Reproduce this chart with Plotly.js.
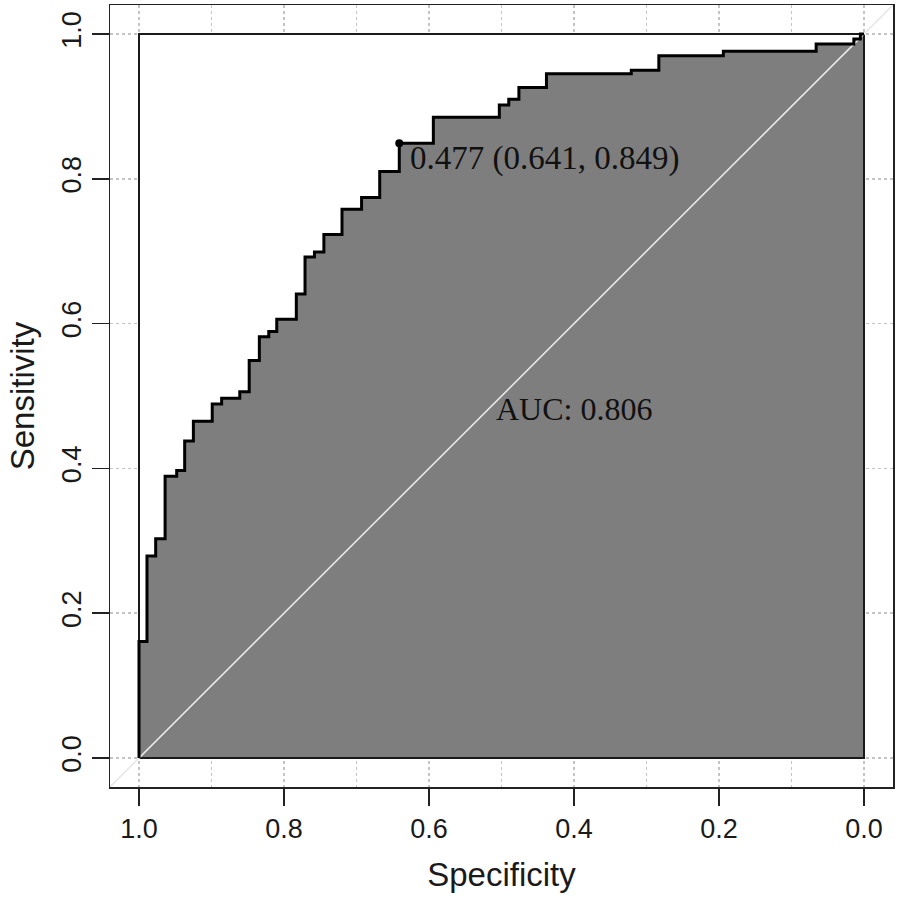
<!DOCTYPE html>
<html>
<head>
<meta charset="utf-8">
<script src="https://cdn.plot.ly/plotly-3.0.1.min.js"></script>
<style>html,body{margin:0;padding:0;background:#fff;}#chart{width:898px;height:901px;}</style>
</head>
<body>
<div id="chart"></div>
<script>
// ROC step vertices (specificity, sensitivity)
const specificity = [1, 0.989, 0.977, 0.964, 0.948, 0.937, 0.925, 0.899, 0.886, 0.861, 0.848,
  0.834, 0.821, 0.810, 0.783, 0.771, 0.758, 0.745, 0.720, 0.693, 0.668, 0.641,
  0.594, 0.503, 0.490, 0.476, 0.438, 0.321, 0.283, 0.194, 0.066, 0.014, 0.005, 0];
const sensitivity = [0, 0.161, 0.279, 0.303, 0.389, 0.397, 0.438, 0.465, 0.489, 0.497, 0.506,
  0.549, 0.582, 0.589, 0.606, 0.641, 0.692, 0.699, 0.723, 0.758, 0.774, 0.810,
  0.849, 0.885, 0.902, 0.910, 0.926, 0.945, 0.950, 0.970, 0.976, 0.986, 0.993, 1.0];
// perfect-classifier square (max AUC polygon)
const maxSpec = [1, 1, 0, 0, 1];
const maxSens = [0, 1, 1, 0, 0];
// best threshold and AUC
const bestThreshold = 0.477;
const bestSpec = 0.641;
const bestSens = 0.849;
const aucValue = 0.806;
// ticks
const tickValues = [0, 0.2, 0.4, 0.6, 0.8, 1.0];
const tickLabels = ['0.0', '0.2', '0.4', '0.6', '0.8', '1.0'];

const xRange = [1.04, -0.04];
const yRange = [-0.04, 1.04];

// polygon under the curve: curve then back along the bottom
const polySpec = specificity.concat([0, 1]);
const polySens = sensitivity.concat([0, 0]);

const traces = [
  {x: maxSpec, y: maxSens, type: 'scatter', mode: 'lines', fill: 'toself',
   fillcolor: '#ffffff', line: {width: 0, color: 'rgba(0,0,0,0)'}, hoverinfo: 'skip'},
  {x: polySpec, y: polySens, type: 'scatter', mode: 'lines', fill: 'toself',
   fillcolor: '#7e7e7e', line: {width: 0, shape: 'vh', color: 'rgba(0,0,0,0)'}, hoverinfo: 'skip'},
  {x: maxSpec, y: maxSens, type: 'scatter', mode: 'lines',
   line: {width: 2, color: '#1a1a1a'}, hoverinfo: 'skip'},
  {x: [xRange[0], xRange[1]], y: [1 - xRange[0], 1 - xRange[1]], type: 'scatter', mode: 'lines',
   line: {width: 1.6, color: '#e8e8e8'}, hoverinfo: 'skip'},
  {x: specificity, y: sensitivity, type: 'scatter', mode: 'lines',
   line: {width: 3, color: '#000000', shape: 'vh'}},
  {x: [bestSpec], y: [bestSens], type: 'scatter', mode: 'markers',
   marker: {size: 8, color: '#000000'}}
];

const gridCol = '#c4c4c4';
const axisFont = {family: 'Liberation Sans, Arial, sans-serif', size: 27, color: '#1a1a1a'};
const titleFont = {family: 'Liberation Sans, Arial, sans-serif', size: 33, color: '#1a1a1a'};
const serifFont = {family: 'Liberation Serif, Times New Roman, serif', size: 33, color: '#111'};

const layout = {
  width: 898, height: 901,
  margin: {l: 110, r: 5, t: 5, b: 114},
  paper_bgcolor: '#ffffff', plot_bgcolor: '#ffffff',
  showlegend: false,
  xaxis: {
    range: xRange, tickvals: tickValues, ticktext: tickLabels,
    showline: true, mirror: true, linecolor: '#222', linewidth: 1.5,
    ticks: 'outside', ticklen: 17, tickwidth: 1.5, tickcolor: '#222',
    showgrid: true, gridcolor: gridCol, gridwidth: 1.5, griddash: 'dot',
    minor: {dtick: 0.1, tick0: 0, showgrid: true, gridcolor: gridCol, gridwidth: 1.5, griddash: 'dot', ticks: ''},
    zeroline: false, tickfont: axisFont,
    title: {text: 'Specificity', font: titleFont, standoff: 20}
  },
  yaxis: {
    range: yRange, tickvals: tickValues, ticktext: tickLabels, tickangle: -90,
    showline: true, mirror: true, linecolor: '#222', linewidth: 1.5,
    ticks: 'outside', ticklen: 17, tickwidth: 1.5, tickcolor: '#222',
    showgrid: true, gridcolor: gridCol, gridwidth: 1.5, griddash: 'dot',
    zeroline: false, tickfont: axisFont,
    title: {text: 'Sensitivity', font: titleFont, standoff: 12}
  },
  annotations: [
    {x: bestSpec, y: bestSens, xref: 'x', yref: 'y', xanchor: 'left', yanchor: 'middle',
     xshift: 9, yshift: -15, showarrow: false,
     text: bestThreshold.toFixed(3) + ' (' + bestSpec.toFixed(3) + ', ' + bestSens.toFixed(3) + ')',
     font: serifFont},
    {x: 0.4, y: 0.482, xref: 'x', yref: 'y', xanchor: 'center', yanchor: 'middle', showarrow: false,
     text: 'AUC: ' + aucValue.toFixed(3),
     font: {family: serifFont.family, size: 32, color: '#111'}}
  ]
};

Plotly.newPlot('chart', traces, layout, {displayModeBar: false, staticPlot: true});
</script>
</body>
</html>
